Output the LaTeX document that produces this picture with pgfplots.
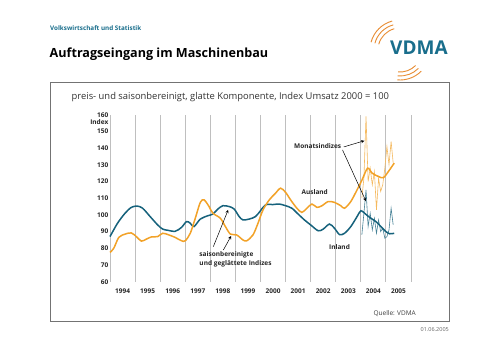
\documentclass[border=0pt]{standalone}
\usepackage{fontspec}
\setmainfont{Open Sans}
\usepackage{pgfplots}
\pgfplotsset{compat=1.18}
\definecolor{inl}{RGB}{22,98,124}
\definecolor{ausl}{RGB}{242,162,40}
\definecolor{vteal}{RGB}{25,110,140}
\definecolor{vorange}{RGB}{232,140,50}
\begin{document}
\begin{tikzpicture}
\path[fill=white] (0pt,0pt) rectangle (500pt,353pt);
% header
\node[anchor=west, inner sep=0, font=\fontsize{6.3}{7}\selectfont\bfseries, text=vteal] at (50pt,325pt) {Volkswirtschaft und Statistik};
\node[anchor=west, inner sep=0, font=\fontsize{12.6}{15}\selectfont\bfseries] at (49.5pt,299pt) {Auftragseingang im Maschinenbau};
% logo
\node[anchor=west, inner sep=0, font=\fontsize{19}{20}\selectfont\bfseries, text=vteal] at (390pt,305pt) {VDMA};
\foreach \r in {22,26,30} {
  \draw[vorange, line width=0.9pt] (400pt,303pt) ++(105:\r pt) arc[start angle=105, end angle=165, radius=\r pt];
  \draw[vorange, line width=0.9pt] (400pt,303pt) ++(-95:\r pt) arc[start angle=-95, end angle=-45, radius=\r pt];
}
% frame
\draw[black!55, line width=1pt] (50pt,270pt) rectangle (449pt,31pt);
\node[anchor=west, inner sep=0, font=\fontsize{9.4}{11}\selectfont, text=black!80] at (71.5pt,256pt) {preis- und saisonbereinigt, glatte Komponente, Index Umsatz 2000 = 100};
\node[anchor=east, inner sep=0, font=\fontsize{6.5}{8}\selectfont, text=black!75] at (416pt,39pt) {Quelle: VDMA};
\node[anchor=east, inner sep=0, font=\fontsize{5.5}{7}\selectfont, text=black!60] at (449pt,23pt) {01.06.2005};
\begin{axis}[at={(110pt,71.3pt)}, anchor=south west, scale only axis,
  width=301pt, height=167pt,
  xmin=1994, xmax=2006, ymin=60, ymax=160,
  axis line style={draw=none},
  major tick length=0pt, minor tick length=0pt,
  ytick={60,70,...,160},
  xtick={1994.5,1995.5,...,2005.5},
  xticklabels={1994,1995,1996,1997,1998,1999,2000,2001,2002,2003,2004,2005},
  minor xtick={1994,1995,...,2006},
  xminorgrids, minor grid style={black!25, line width=1pt},
  /pgf/number format/assume math mode=true,
  /pgf/number format/1000 sep={},
  ticklabel style={font=\fontsize{6.5}{7}\selectfont\bfseries, text=black!85},
  yticklabel style={inner sep=1.5pt},
  xticklabel style={yshift=-4pt},
  clip=false,
]
% monthly Ausland
\addplot[ausl!75, line width=0.6pt] coordinates {
(2004.04,110)(2004.123,122)(2004.207,159)(2004.29,120)(2004.373,128)(2004.457,118)(2004.54,126)(2004.623,103)
(2004.707,122)(2004.79,114)(2004.873,118)(2004.957,128)(2005.04,141)(2005.123,130)(2005.207,144)(2005.29,131)};
% monthly Inland
\addplot[inl!80, line width=0.6pt] coordinates {
(2004.04,88)(2004.123,101)(2004.207,115)(2004.29,93)(2004.373,101)(2004.457,91)(2004.54,98)(2004.623,89)
(2004.707,97)(2004.79,90)(2004.873,92)(2004.957,86)(2005.04,87)(2005.123,91)(2005.207,104)(2005.29,94)};
% smooth Inland
\addplot[inl, line width=1.5pt, smooth] coordinates {
(1994.0,87)(1994.3,95)(1994.6,101)(1994.85,104.5)(1995.08,105.3)(1995.3,104)(1995.6,99)(1995.9,94)
(1996.1,91.5)(1996.3,90.8)(1996.6,90.2)(1996.85,92.5)(1997.05,96)(1997.2,95)(1997.35,93)(1997.6,97.5)
(1997.9,99.5)(1998.1,100.5)(1998.3,103.5)(1998.5,105.5)(1998.75,105)(1998.95,103.5)(1999.15,99)(1999.3,97)
(1999.55,97.5)(1999.8,99)(2000.0,102.5)(2000.2,106)(2000.5,106.2)(2000.75,106.5)(2001.0,105.5)(2001.25,104)
(2001.5,100.5)(2001.75,97)(2002.0,94)(2002.3,90.5)(2002.5,91.5)(2002.75,94.5)(2002.95,92)(2003.15,88.2)
(2003.35,89)(2003.6,93)(2003.85,99)(2004.0,102.5)(2004.15,101)(2004.35,98.5)(2004.6,96)(2004.8,93)
(2005.0,90)(2005.15,88.7)(2005.33,89)};
% smooth Ausland
\addplot[ausl, line width=1.5pt, smooth] coordinates {
(1994.0,77.5)(1994.15,80)(1994.35,86.5)(1994.6,88.5)(1994.85,89.2)(1995.05,87)(1995.25,84.3)(1995.45,85.5)
(1995.65,86.8)(1995.9,87)(1996.1,89)(1996.35,88)(1996.6,86.5)(1996.85,84.5)(1997.0,84.5)(1997.2,89)
(1997.4,98)(1997.6,107.5)(1997.75,109)(1997.95,105)(1998.1,101)(1998.4,98)(1998.6,93)(1998.8,88.5)
(1999.05,88)(1999.3,85)(1999.45,84.5)(1999.7,88)(1999.9,95)(2000.1,103)(2000.35,109)(2000.6,113)
(2000.8,116)(2001.0,113.5)(2001.2,109)(2001.45,104)(2001.65,101.5)(2001.85,104)(2002.05,106.5)(2002.25,104.5)
(2002.45,105.5)(2002.7,108)(2002.95,107.5)(2003.2,105.5)(2003.35,104)(2003.6,108)(2003.85,115)(2004.05,121)
(2004.27,128)(2004.45,125)(2004.7,123)(2004.9,122.3)(2005.1,126)(2005.33,131)};
% labels
\node[anchor=east, inner sep=1.5pt, font=\fontsize{6.5}{7}\selectfont\bfseries, text=black!85] at (axis cs:1994,155.3) {Index};
\node[font=\fontsize{6.5}{7}\selectfont\bfseries, text=black!85] at (axis cs:2002.28,141.3) {Monatsindizes};
\node[font=\fontsize{6.5}{7}\selectfont\bfseries, text=black!85] at (axis cs:2002.16,113.7) {Ausland};
\node[font=\fontsize{6.5}{7}\selectfont\bfseries, text=black!85] at (axis cs:2003.15,81) {Inland};
\node[anchor=north west, align=left, inner sep=0pt, font=\fontsize{6.5}{9}\selectfont\bfseries, text=black!85] at (axis cs:1997.56,78.2) {saisonbereinigte\\und geglättete Indizes};
\draw[-stealth, line width=0.5pt] (axis cs:2003.32,140.7) -- (axis cs:2004.14,144.4);
\draw[-stealth, line width=0.5pt] (axis cs:2003.27,138.9) -- (axis cs:2004.2,108.3);
\draw[-stealth, line width=0.5pt] (axis cs:1998.12,81) -- (axis cs:1998.71,103);
\draw[-stealth, line width=0.5pt] (axis cs:1998.52,79) -- (axis cs:1998.83,87.4);
\end{axis}
\end{tikzpicture}
\end{document}
